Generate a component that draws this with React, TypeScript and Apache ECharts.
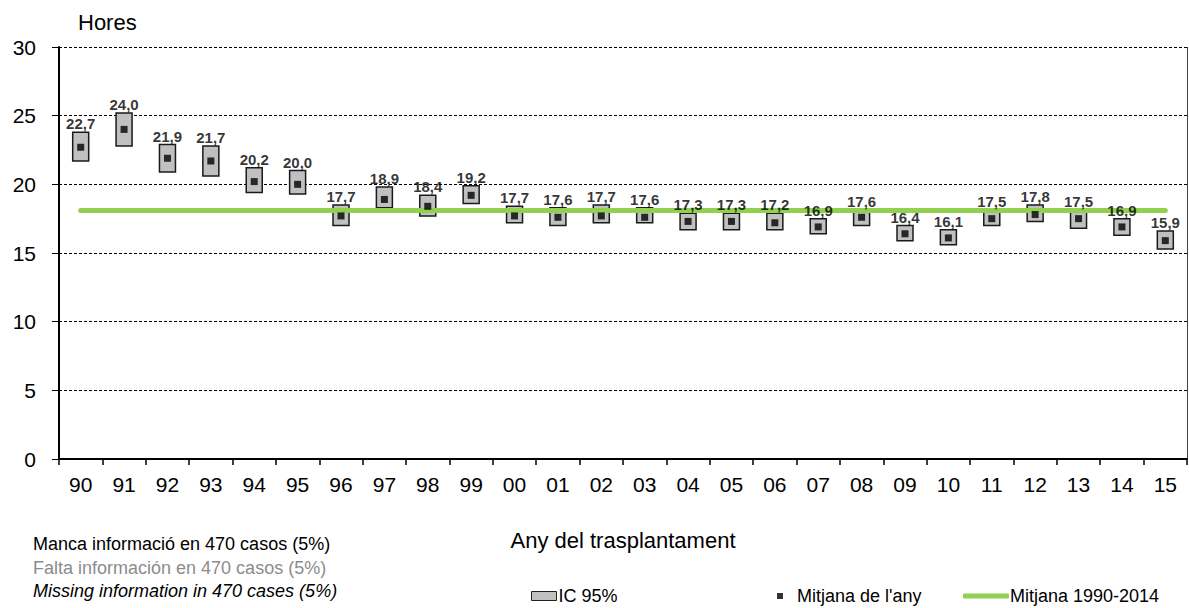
import React, { useEffect, useRef } from "react";
import * as echarts from "echarts";

const years = ["90", "91", "92", "93", "94", "95", "96", "97", "98", "99", "00", "01", "02", "03", "04", "05", "06", "07", "08", "09", "10", "11", "12", "13", "14", "15"];
const means = [22.7, 24.0, 21.9, 21.7, 20.2, 20.0, 17.7, 18.9, 18.4, 19.2, 17.7, 17.6, 17.7, 17.6, 17.3, 17.3, 17.2, 16.9, 17.6, 16.4, 16.1, 17.5, 17.8, 17.5, 16.9, 15.9];
const ciLow = [21.7, 22.8, 20.9, 20.6, 19.4, 19.3, 17.0, 18.3, 17.7, 18.6, 17.2, 17.0, 17.2, 17.2, 16.7, 16.7, 16.7, 16.4, 17.0, 15.9, 15.6, 17.0, 17.3, 16.8, 16.3, 15.3];
const ciHigh = [23.8, 25.2, 22.9, 22.8, 21.2, 21.0, 18.5, 19.8, 19.2, 19.9, 18.4, 18.3, 18.5, 18.3, 17.9, 17.9, 17.9, 17.5, 18.1, 17.0, 16.7, 18.1, 18.5, 18.1, 17.5, 16.6];
const overallMean = 18.1;
const yTicks = { min: 0, max: 30, interval: 5 };
const notes = [
  "Manca informació en 470 casos (5%)",
  "Falta información en 470 casos (5%)",
  "Missing information in 470 cases (5%)",
];

const FONT = "'Liberation Sans', Arial, sans-serif";
const fmt = (v: number) => v.toFixed(1).replace(".", ",");

export default function App() {
  const ref = useRef<HTMLDivElement>(null);
  useEffect(() => {
    if (!ref.current) return;
    const chart = echarts.init(ref.current, undefined, { renderer: "svg" });
    const gridLeft = 59;
    const gridTop = 47;
    const gridRight = 1187;
    const gridBottom = 459;
    chart.setOption({
      animation: false,
      backgroundColor: "#ffffff",
      textStyle: { fontFamily: FONT },
      grid: { left: gridLeft, top: gridTop, width: gridRight - gridLeft, height: gridBottom - gridTop, containLabel: false },
      legend: [
        {
          left: 526, top: 582, selectedMode: false, itemWidth: 25, itemHeight: 9,
          textStyle: { fontSize: 18, color: "#000", fontFamily: FONT, padding: [0, 0, 0, -3] },
          data: [{ name: "IC 95%", icon: "rect", itemStyle: { color: "#c0c0c0", borderColor: "#222", borderWidth: 1 } }],
        },
        {
          left: 772, top: 582, selectedMode: false, itemWidth: 6, itemHeight: 6,
          textStyle: { fontSize: 18, color: "#000", fontFamily: FONT, padding: [0, 0, 0, 9] },
          data: [{ name: "Mitjana de l'any", icon: "rect", itemStyle: { color: "#000" } }],
        },
        {
          left: 958, top: 582, selectedMode: false, itemWidth: 46, itemHeight: 5,
          textStyle: { fontSize: 18, color: "#000", fontFamily: FONT, padding: [0, 0, 0, -4] },
          data: [{ name: "Mitjana 1990-2014", icon: "roundRect", itemStyle: { color: "#92d050" } }],
        },
      ],
      xAxis: {
        type: "category",
        data: years,
        boundaryGap: true,
        name: "Any del trasplantament",
        nameLocation: "middle",
        nameGap: 70,
        nameTextStyle: { fontSize: 22, color: "#000", fontFamily: FONT },
        axisLine: { show: true, lineStyle: { color: "#000", width: 2 } },
        axisTick: { show: true, alignWithLabel: false, length: 6, lineStyle: { color: "#000", width: 1.5 } },
        axisLabel: { fontSize: 21, color: "#000", margin: 15, fontFamily: FONT },
        splitLine: { show: false },
      },
      yAxis: {
        type: "value",
        min: yTicks.min,
        max: yTicks.max,
        interval: yTicks.interval,
        name: "Hores",
        nameLocation: "end",
        nameGap: 14,
        nameTextStyle: { fontSize: 22, color: "#000", fontFamily: FONT, align: "left", padding: [0, 0, 0, 19] },
        axisLine: { show: true, lineStyle: { color: "#000", width: 2 } },
        axisTick: { show: true, length: 7, lineStyle: { color: "#000", width: 1 } },
        axisLabel: { fontSize: 21, color: "#000", margin: 23, fontFamily: FONT },
        splitLine: { show: true, lineStyle: { color: "#000", width: 1, type: [3, 2] } },
      },
      graphic: [
        { type: "line", shape: { x1: gridRight + 0.5, y1: gridTop, x2: gridRight + 0.5, y2: gridBottom }, style: { stroke: "#444", lineWidth: 1 } },
        ...notes.map((t, i) => ({
          type: "text",
          left: 33,
          top: 535 + i * 23.5,
          style: {
            text: t,
            fontSize: 18,
            fontFamily: FONT,
            fill: i === 1 ? "#8c8c8c" : "#000",
            fontStyle: i === 2 ? "italic" : "normal",
          },
        })),
      ],
      series: [
        {
          name: "IC 95%",
          type: "custom",
          z: 2,
          data: years.map((_, i) => [i, ciLow[i], ciHigh[i]]),
          encode: { x: 0, y: [1, 2] },
          renderItem: (params: any, api: any) => {
            const x = api.value(0);
            const top = api.coord([x, api.value(2)]);
            const bot = api.coord([x, api.value(1)]);
            return {
              type: "rect",
              shape: { x: top[0] - 8, y: top[1], width: 16, height: bot[1] - top[1] },
              style: { fill: "#c0c0c0", stroke: "#1a1a1a", lineWidth: 1.5 },
            };
          },
        },
        {
          name: "Mitjana 1990-2014",
          type: "line",
          z: 3,
          data: years.map(() => overallMean),
          symbol: "none",
          lineStyle: { color: "#92d050", width: 5, cap: "round" },
          itemStyle: { color: "#92d050" },
        },
        {
          name: "Mitjana de l'any",
          type: "scatter",
          z: 4,
          data: means.map((v, i) => [i, v]),
          symbol: "rect",
          symbolSize: 7,
          itemStyle: { color: "#000" },
        },
        {
          name: "labels",
          type: "scatter",
          z: 5,
          silent: true,
          data: ciHigh.map((v, i) => [i, v]),
          symbolSize: 0,
          itemStyle: { color: "transparent" },
          label: {
            show: true,
            position: "top",
            distance: 1,
            fontSize: 15,
            fontWeight: "bold",
            color: "#000",
            fontFamily: FONT,
            formatter: (p: any) => fmt(means[p.dataIndex]),
          },
        },
      ],
    });
    return () => chart.dispose();
  }, []);
  return <div ref={ref} style={{ position: "fixed", left: 0, top: 0, width: 1189, height: 608 }} />;
}
